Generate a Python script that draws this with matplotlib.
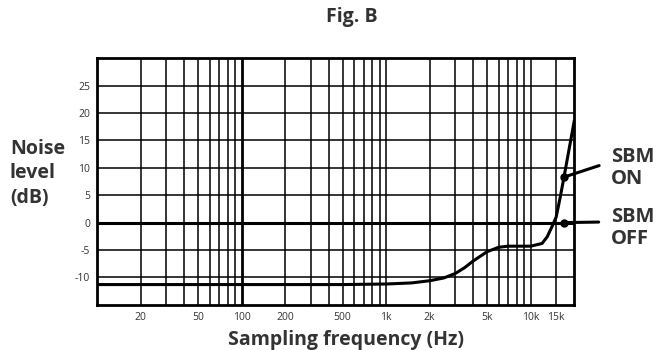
import matplotlib
matplotlib.use("Agg")
from matplotlib import pyplot as plt

# SBM ON curve
freq_on = [10, 500, 1000, 1500, 2000, 2500, 3000, 3500, 4000, 5000, 6000,
           7000, 10000, 12000, 13000, 14000, 15000, 16000, 17000, 20000]
db_on = [-11.3, -11.3, -11.2, -11.0, -10.6, -10.1, -9.3, -8.2, -7.0, -5.3, -4.5,
         -4.3, -4.3, -3.8, -2.6, -0.8, 1.0, 4.6, 8.3, 18.5]

# SBM OFF is flat
freq_off = [10, 20000]
db_off = [0, 0]

# marker dots
dot_freq = [17000, 17000]
dot_db = [8.3, 0]

grid_freqs = [20, 30, 40, 50, 60, 70, 80, 90, 100, 200, 300, 400, 500, 600, 700,
              800, 900, 1000, 2000, 3000, 4000, 5000, 6000, 7000, 8000, 9000,
              10000, 15000]
xlabels = {20: "20", 50: "50", 100: "100", 200: "200", 500: "500", 1000: "1k",
           2000: "2k", 5000: "5k", 10000: "10k", 15000: "15k"}
yticks = [-10, -5, 0, 5, 10, 15, 20, 25]

txt = "#333333"
plt.rcParams['font.family'] = ['Open Sans', 'DejaVu Sans']

fig = plt.figure(figsize=(6.6, 3.5), dpi=100)
ax = fig.add_axes([0.147, 0.129, 0.723, 0.705])

ax.set_xscale("log")
ax.set_xlim(10, 20000)
ax.set_ylim(-15, 30)

for f in grid_freqs:
    ax.axvline(f, color="black", lw=2.0 if f == 100 else 1.1, zorder=1)
for y in yticks:
    ax.axhline(y, color="black", lw=1.1, zorder=1)

ax.plot(freq_off, db_off, color="black", lw=2.2, zorder=3)
ax.plot(freq_on, db_on, color="black", lw=2.2, zorder=3, solid_joinstyle="round")
ax.plot(dot_freq, dot_db, "o", color="black", ms=5, zorder=4)

ax.set_xticks(grid_freqs)
ax.set_xticklabels([xlabels.get(f, "") for f in grid_freqs])
ax.xaxis.set_minor_locator(matplotlib.ticker.NullLocator())
ax.set_yticks(yticks)
ax.set_yticklabels([str(v) for v in yticks])
ax.tick_params(length=0, labelsize=7.5, labelcolor=txt, pad=5)

for s in ax.spines.values():
    s.set_linewidth(2)
    s.set_color("black")

fig.text(0.533, 0.952, "Fig. B", ha="center", va="center", fontsize=14,
         fontweight="bold", color=txt)
fig.text(0.524, 0.03, "Sampling frequency (Hz)", ha="center", va="center",
         fontsize=14, fontweight="bold", color=txt)
fig.text(0.015, 0.505, "Noise\nlevel\n(dB)", ha="left", va="center",
         fontsize=14, fontweight="bold", color=txt, linespacing=1.3)

# pointer labels
ax.annotate("SBM\nON", xy=(17000, 8.3), xytext=(0.926, 0.52),
            textcoords="figure fraction", ha="left", va="center", fontsize=14.5,
            fontweight="bold", color=txt, linespacing=1.15,
            arrowprops=dict(arrowstyle="-", color="black", lw=2.2,
                            relpos=(0, 0.65), shrinkA=7, shrinkB=0))
ax.annotate("SBM\nOFF", xy=(17000, 0), xytext=(0.926, 0.348),
            textcoords="figure fraction", ha="left", va="center", fontsize=14.5,
            fontweight="bold", color=txt, linespacing=1.15,
            arrowprops=dict(arrowstyle="-", color="black", lw=2.2,
                            relpos=(0, 0.65), shrinkA=7, shrinkB=0))

fig.savefig("out.png", dpi=100)
